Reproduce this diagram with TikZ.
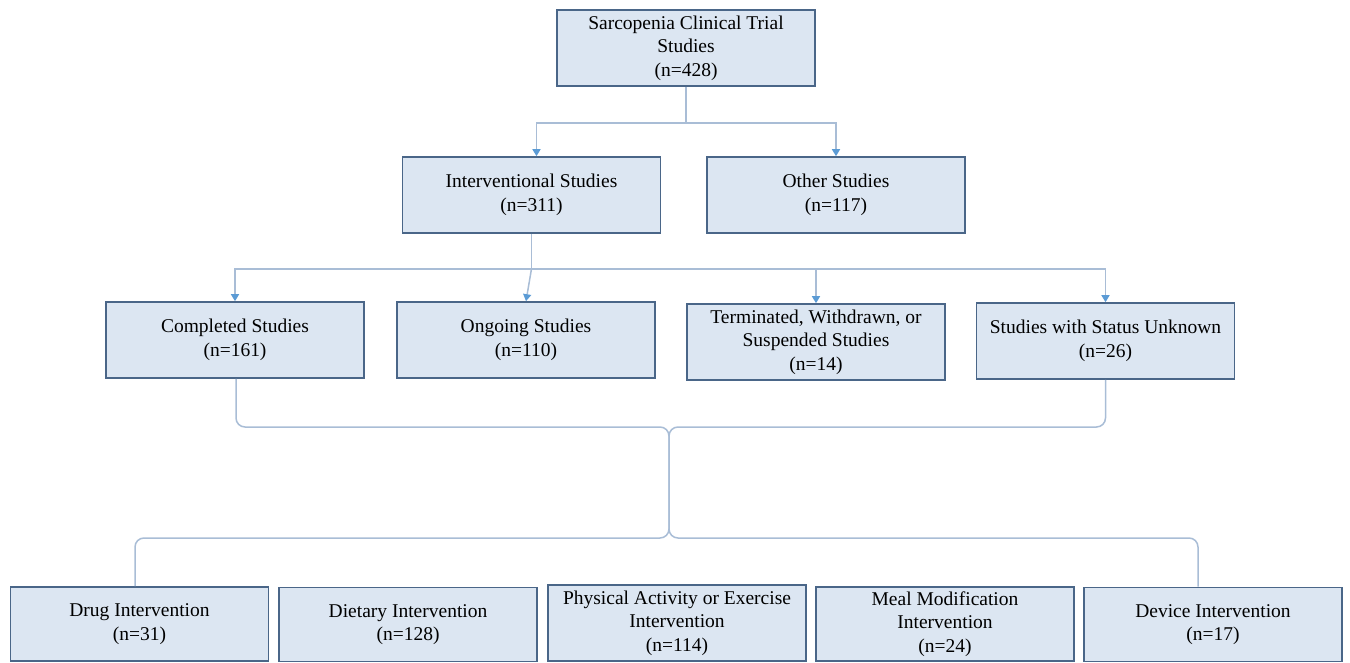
\documentclass[tikz,border=0pt]{standalone}
\usepackage{fontspec}
\setmainfont{Liberation Serif}
\usetikzlibrary{arrows.meta,calc}
\definecolor{boxfill}{HTML}{DCE6F2}
\definecolor{boxdraw}{HTML}{4A6688}
\definecolor{connc}{HTML}{A9BDD6}
\definecolor{tipc}{HTML}{5B9BD5}
\begin{document}
\begin{tikzpicture}[x=1pt,y=-1pt,
  box/.style={draw=boxdraw,fill=boxfill,line width=1.6pt,minimum width=258pt,minimum height=76pt,
    inner sep=0pt,align=center,font=\fontsize{19.5}{23.5}\selectfont},
  conn/.style={draw=connc,line width=1.5pt},
  arr/.style={conn,-{Triangle[width=8pt,length=7pt,color=tipc]}},
  brace/.style={conn,rounded corners=9pt}]
\useasboundingbox (0,0) rectangle (1350,663);
\node[box] (top) at (686,48) {Sarcopenia Clinical Trial\\Studies\\(n=428)};
\node[box] (inter) at (531.5,195) {Interventional Studies\\(n=311)};
\node[box] (other) at (836,195) {Other Studies\\(n=117)};
\node[box] (comp) at (235,340) {Completed Studies\\(n=161)};
\node[box] (ong) at (526,340) {Ongoing Studies\\(n=110)};
\node[box] (term) at (816,342) {Terminated, Withdrawn, or\\Suspended Studies\\(n=14)};
\node[box] (unk) at (1105.5,341) {Studies with Status Unknown\\(n=26)};
\node[box,minimum height=74pt] (drug) at (139.5,624) {Drug Intervention\\(n=31)};
\node[box,minimum height=74pt] (diet) at (408,624.5) {Dietary Intervention\\(n=128)};
\node[box,minimum height=76pt] (phys) at (677,623) {Physical Activity or Exercise\\Intervention\\(n=114)};
\node[box,minimum height=74pt] (meal) at (945,624) {Meal Modification\\Intervention\\(n=24)};
\node[box,minimum height=74pt] (dev) at (1213,624.5) {Device Intervention\\(n=17)};
% level 1 -> 2
\coordinate (j1) at ($(top.south)+(0,36)$);
\draw[arr] (top.south) -- (j1) -| ($(inter.north)+(5,0)$);
\draw[arr] (j1) -| (other.north);
% level 2 -> 3
\coordinate (j2) at ($(inter.south)+(0,35)$);
\draw[conn] (inter.south) -- (j2);
\draw[arr] (j2) -| (comp.north);
\draw[arr] (j2) -- (ong.north);
\draw[arr] (j2) -| (term.north);
\draw[arr] (j2) -| (unk.north);
% brace
\coordinate (bt) at (669,427);
\coordinate (bb) at (669,538);
\draw[brace] ($(comp.south)+(1,0)$) |- (bt) -- (bb) -| ($(drug.north)+(-4.5,0)$);
\draw[brace] (unk.south) |- (bt) -- (bb) -| ($(dev.north)+(-15,0)$);
\end{tikzpicture}
\end{document}
